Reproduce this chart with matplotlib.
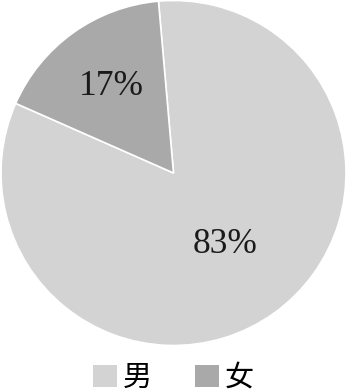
import numpy as np
import matplotlib

matplotlib.use("Agg")
import matplotlib.pyplot as plt

labels = ["男", "女"]
shares = [83, 17]
pct_text = ["83%", "17%"]
colors = ["#d3d3d3", "#a9a9a9"]

W, H = 347, 392
fig = plt.figure(figsize=(W / 100, H / 100), dpi=100)
ax = fig.add_axes([0.0, 1 - 346 / H, 1.0, 346 / H])

wedges, _ = ax.pie(
    shares, colors=colors, startangle=95, counterclock=False,
    wedgeprops=dict(edgecolor="white", linewidth=1.2),
)
ax.set_xlim(-1.003, 1.003)
ax.set_ylim(-1.003, 1.003)
ax.set_aspect("equal")

# put percentage text inside each wedge, along the mid angle
dist = [0.51, 0.62]
for w, t, d in zip(wedges, pct_text, dist):
    mid = np.deg2rad((w.theta1 + w.theta2) / 2)
    ax.text(d * np.cos(mid), d * np.sin(mid), t, ha="center", va="center",
            fontsize=25.5, family="Liberation Serif", color="#1a1a1a")

fig.legend(
    wedges, labels, loc="center", bbox_to_anchor=(0.5, 14 / H), ncol=2,
    frameon=False, prop={"family": ["Noto Sans CJK SC", "DejaVu Sans"], "size": 21},
    handlelength=0.8, handleheight=0.8, handletextpad=0.2, columnspacing=1.5,
)
for h in fig.legends[0].legend_handles:
    h.set_edgecolor("none")

fig.savefig("out.png", dpi=100)
